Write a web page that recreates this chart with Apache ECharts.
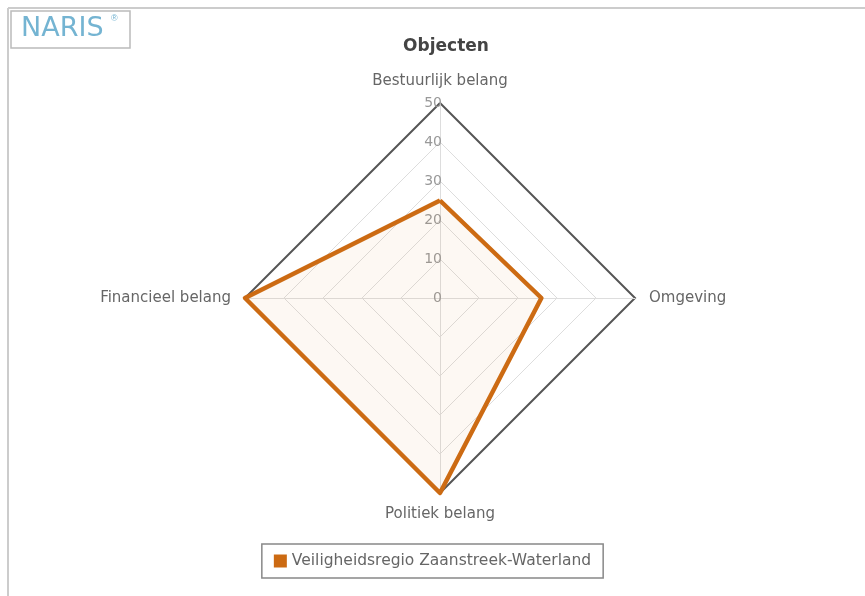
<!DOCTYPE html>
<html>
<head>
<meta charset="utf-8">
<script src="https://cdn.jsdelivr.net/npm/echarts@6/dist/echarts.min.js"></script>
<style>
  html, body { margin: 0; padding: 0; background: #fff; }
  #chart { width: 865px; height: 596px; }
</style>
</head>
<body>
<div id="chart"></div>
<script>
// indicators in ECharts order (top, left, bottom, right)
const indicatorNames = ['Bestuurlijk belang', 'Financieel belang', 'Politiek belang', 'Omgeving']
const maxValue = 50
const regionValues = [25, 50, 50, 26]
const seriesName = 'Veiligheidsregio Zaanstreek-Waterland'

const chart = echarts.init(document.getElementById('chart'))
const indicators = indicatorNames.map(n => ({ name: n, min: 0, max: maxValue }))

let option = {
  textStyle: { fontFamily: 'DejaVu Sans' },
  title: {
    text: 'Objecten',
    left: 441,
    top: 33,
    textAlign: 'center',
    textStyle: { fontSize: 17, fontWeight: 'bold', color: '#444' }
  },
  legend: {
    bottom: 18,
    left: 'center',
    data: [seriesName],
    icon: 'rect',
    itemWidth: 13,
    itemHeight: 13,
    itemGap: 8,
    padding: [9, 12, 9, 12],
    borderColor: '#888',
    borderWidth: 1.5,
    textStyle: { color: '#666', fontSize: 15.5 }
  },
  graphic: [
    { type: 'line', shape: { x1: 8, y1: 8, x2: 865, y2: 8 }, style: { stroke: '#ccc', lineWidth: 2 } },
    { type: 'line', shape: { x1: 8, y1: 8, x2: 8, y2: 596 }, style: { stroke: '#ccc', lineWidth: 2 } },
    { type: 'rect', shape: { x: 11, y: 11, width: 119, height: 37 }, style: { fill: '#fff', stroke: '#bbb', lineWidth: 1.5 } },
    { type: 'text', left: 21, top: 15, style: { text: 'NARIS', fill: '#74b4d2', fontSize: 27, fontFamily: 'DejaVu Sans' } },
    { type: 'text', left: 111, top: 14, style: { text: '®', fill: '#74b4d2', fontSize: 9 } }
  ],
  radar: [
    {
      center: [440, 298],
      radius: 195,
      splitNumber: 5,
      indicator: indicators,
      axisName: { color: '#666', fontSize: 15 },
      nameGap: 14,
      axisLine: { lineStyle: { color: '#ddd' } },
      splitLine: { lineStyle: { color: '#ddd', width: 1 } },
      splitArea: { show: false }
    },
    {
      // outer ring only, darker
      center: [440, 298],
      radius: 195,
      splitNumber: 1,
      indicator: indicators,
      axisName: { show: false },
      axisLine: { show: false },
      splitLine: { lineStyle: { color: '#555', width: 2 } },
      splitArea: { show: false }
    }
  ],
  polar: { center: [440, 298], radius: 195 },
  angleAxis: { show: false, startAngle: 90, min: 0, max: 360 },
  radiusAxis: {
    min: 0,
    max: maxValue,
    interval: 10,
    axisLine: { show: false },
    axisTick: { show: false },
    splitLine: { show: false },
    axisLabel: { color: '#999', fontSize: 14, margin: -2 }
  },
  series: [
    {
      name: seriesName,
      type: 'radar',
      radarIndex: 0,
      symbol: 'none',
      z: 5,
      data: [{ value: regionValues, name: seriesName }],
      itemStyle: { color: '#cc6a12' },
      lineStyle: { color: '#cc6a12', width: 4.5 },
      areaStyle: { color: 'rgba(230, 140, 60, 0.09)' }
    }
  ]
}
chart.setOption(option)
</script>
</body>
</html>
